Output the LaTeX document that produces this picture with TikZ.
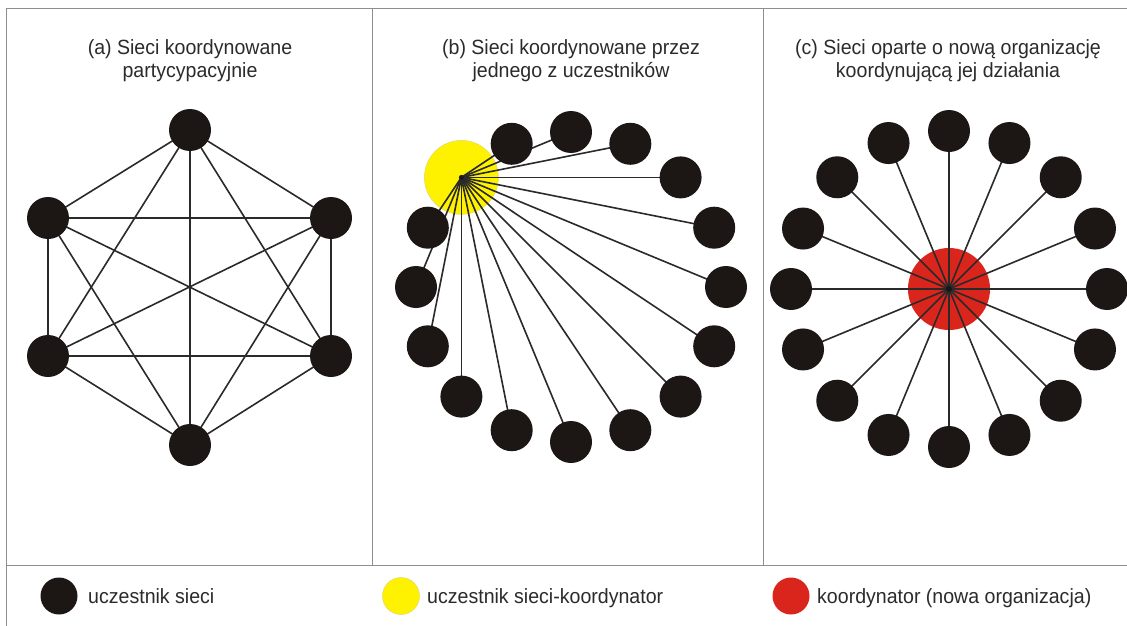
\documentclass[tikz,border=0pt]{standalone}
\usepackage{fontspec}
\setmainfont{Liberation Sans}[FakeStretch=0.95]
\definecolor{nodeblack}{HTML}{1C1615}
\definecolor{linegray}{HTML}{2A2A2A}
\definecolor{framegray}{HTML}{8E8E8E}
\definecolor{textgray}{HTML}{2B2B2B}
\definecolor{coordyellow}{HTML}{FFF200}
\definecolor{coordred}{HTML}{DA251D}
\pgfdeclarelayer{paper}
\pgfdeclarelayer{back}
\pgfsetlayers{paper,back,main}
\begin{document}
\begin{tikzpicture}[x=1pt,y=-1pt,
  member/.style={circle,fill=nodeblack,minimum size=42pt,inner sep=0pt},
  hub/.style={circle,minimum size=#1,inner sep=0pt},
  link/.style={draw=linegray,line width=1.6pt},
  frame/.style={draw=framegray,line width=1pt},
  title/.style={align=center,text=textgray,font=\fontsize{20.6}{23}\selectfont,inner sep=0pt,anchor=north},
  legendtext/.style={text=textgray,font=\fontsize{20.6}{23}\selectfont,inner sep=0pt,anchor=base west}]
\useasboundingbox (0,0) rectangle (1127,626);
\begin{pgfonlayer}{paper}
  \fill[white] (0,0) rectangle (1127,626);
\end{pgfonlayer}

% panel frames
\draw[frame] (6,630) -- (6,9) -- (1130,9);
\draw[frame] (6,565) -- (1130,565);
\draw[frame] (372,9) -- (372,565);
\draw[frame] (763,9) -- (763,565);

% titles
\node[title] (ta) at (190,39) {(a) Sieci koordynowane\\partycypacyjnie};
\node[title] (tb) at (571,39) {(b) Sieci koordynowane przez\\jednego z uczestników};
\node[title] (tc) at (948,39) {(c) Sieci oparte o nową organizację\\koordynującą jej działania};

% (a) fully connected network of six members
\node[member] (a1) at (190,130) {};
\node[member] (a2) at (331,218) {};
\node[member] (a3) at (331,356) {};
\node[member] (a4) at (190,445) {};
\node[member] (a5) at (48,356) {};
\node[member] (a6) at (48,218) {};
\begin{pgfonlayer}{back}
  \foreach \i/\j in {1/2,1/3,1/4,1/5,1/6,2/3,2/4,2/5,2/6,3/4,3/5,3/6,4/5,4/6,5/6}
    \draw[link] (a\i.center) -- (a\j.center);
\end{pgfonlayer}

% (b) one member coordinates the others
\foreach \i in {0,1,2,3,4,5,7,8,9,10,11,12,13,14,15}{
  \pgfmathsetmacro\ang{\i*22.5}
  \node[member] (b\i) at ({571+155*cos(\ang)},{287-155*sin(\ang)}) {};
}
\begin{pgfonlayer}{back}
  \node[hub=74pt,fill=coordyellow,draw=coordyellow!80!black!60,line width=0.5pt]
    (by) at ({571+155*cos(135)},{287-155*sin(135)}) {};
  \foreach \i in {0,1,2,3,4,5,7,8,9,10,11,12,13,14,15}
    \draw[link] (by.center) -- (b\i.center);
\end{pgfonlayer}
\fill[nodeblack] (by.center) circle (2.5pt);

% (c) a new organisation coordinates all members
\foreach \i in {0,...,15}{
  \pgfmathsetmacro\ang{\i*22.5}
  \node[member] (c\i) at ({949+158*cos(\ang)},{289-158*sin(\ang)}) {};
}
\begin{pgfonlayer}{back}
  \node[hub=82pt,fill=coordred] (cr) at (949,289) {};
  \foreach \i in {0,...,15}
    \draw[link] (cr.center) -- (c\i.center);
\end{pgfonlayer}
\fill[nodeblack] (cr.center) circle (3pt);

% legend
\node[hub=37pt,fill=nodeblack] (lk) at (59,596) {};
\node[legendtext] (lkt) at (88,603) {uczestnik sieci};
\node[hub=37pt,fill=coordyellow,draw=coordyellow!80!black!60,line width=0.5pt] (ly) at (401,596) {};
\node[legendtext] (lyt) at (427,603) {uczestnik sieci-koordynator};
\node[hub=37pt,fill=coordred] (lr) at (791,596) {};
\node[legendtext] (lrt) at (817,603) {koordynator (nowa organizacja)};
\end{tikzpicture}
\end{document}
